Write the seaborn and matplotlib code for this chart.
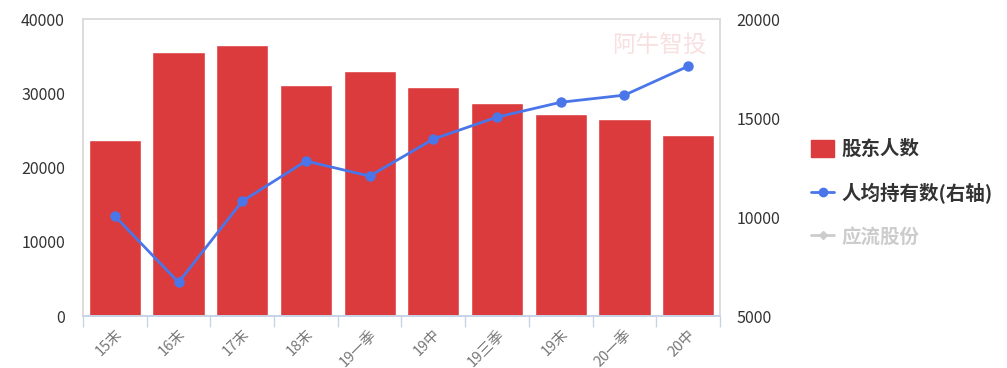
import matplotlib
matplotlib.use("Agg")
import matplotlib.pyplot as plt
from matplotlib.lines import Line2D
from matplotlib.patches import Patch
from matplotlib.ticker import FixedLocator
import pandas as pd
import seaborn as sns

periods = ["15末", "16末", "17末", "18末", "19一季", "19中", "19三季", "19末", "20一季", "20中"]
holders = [23700, 35550, 36500, 31100, 33000, 30850, 28700, 27200, 26550, 24400]
avg_shares = [10050, 6700, 10800, 12830, 12070, 13940, 15050, 15800, 16160, 17620]

BAR_COLOR = "#db3b3c"
LINE_COLOR = "#4a76ea"

sns.set_theme(style="white")
plt.rcParams["font.family"] = ["Noto Sans CJK SC", "DejaVu Sans"]

df = pd.DataFrame({"period": periods, "holders": holders, "avg": avg_shares})

fig = plt.figure(figsize=(10.07, 3.68), dpi=100)
ax = fig.add_axes([0.0824, 0.1413, 0.6326, 0.8067])
sns.barplot(data=df, x="period", y="holders", color=BAR_COLOR, width=0.82,
            saturation=1, ax=ax, order=periods)
ax2 = ax.twinx()
sns.pointplot(data=df, x="period", y="avg", color=LINE_COLOR, order=periods,
              markers="o", markersize=6, linewidth=2, ax=ax2)

ax.set_xlim(-0.5, len(periods) - 0.5)
ax.set_ylim(0, 40000)
ax2.set_ylim(5000, 20000)
ax.set_yticks([0, 10000, 20000, 30000, 40000])
ax2.set_yticks([5000, 10000, 15000, 20000])
ax.set_xlabel("")
ax.set_ylabel("")
ax2.set_xlabel("")
ax2.set_ylabel("")

for a in (ax, ax2):
    for side in ("top", "left", "right"):
        a.spines[side].set_color("#dcdcdc")
    a.spines["bottom"].set_color("#c8d3e6")
ax.tick_params(axis="y", length=0, labelsize=11.5, labelcolor="#333333", pad=13)
ax2.tick_params(axis="y", length=0, labelsize=11.5, labelcolor="#333333", pad=12)
ax.set_xticks(range(len(periods)))
ax.set_xticklabels(periods, rotation=45, ha="right", rotation_mode="anchor",
                   fontsize=10.5, color="#777777")
ax.tick_params(axis="x", length=0, pad=8)
ax.xaxis.set_minor_locator(FixedLocator([i - 0.5 for i in range(len(periods) + 1)]))
ax.tick_params(axis="x", which="minor", length=8, color="#c8d3e6", width=1, bottom=True)

fig.text(0.655, 0.875, "阿牛智投", fontsize=17, color="#f4cccc", alpha=0.6,
         ha="center", va="center")

handles = [
    Patch(facecolor=BAR_COLOR, edgecolor=BAR_COLOR),
    Line2D([0], [0], color=LINE_COLOR, marker="o", markersize=6, linewidth=2),
    Line2D([0], [0], color="#cccccc", marker="D", markersize=4, linewidth=2),
]
labels = ["股东人数", "人均持有数(右轴)", "应流股份"]
leg = fig.legend(handles, labels, loc="center left", bbox_to_anchor=(0.788, 0.475),
                 frameon=False, fontsize=14, handlelength=1.2, labelspacing=1.2,
                 handletextpad=0.35, handleheight=1.0)
for text, col in zip(leg.get_texts(), ["#333333", "#333333", "#cccccc"]):
    text.set_color(col)
    text.set_fontweight("bold")

fig.savefig("out.png", dpi=100)
